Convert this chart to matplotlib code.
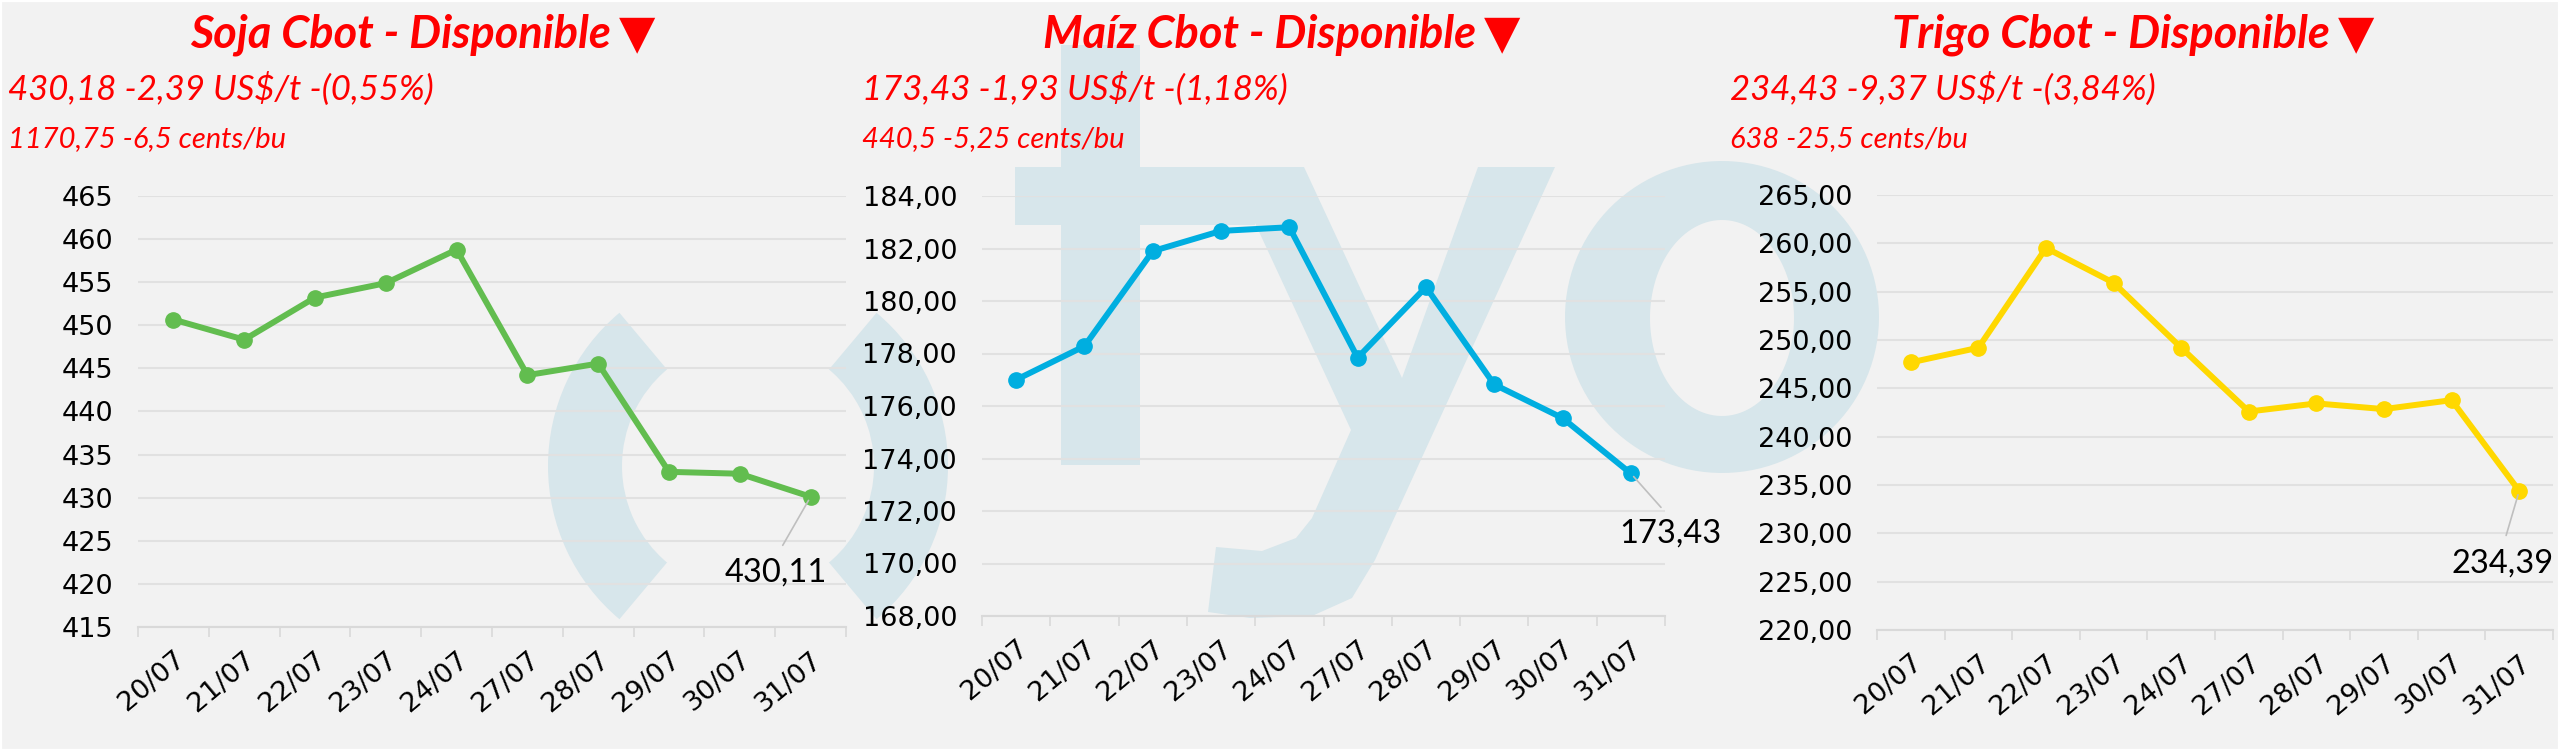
import numpy as np
import matplotlib
matplotlib.use('Agg')
import matplotlib.pyplot as plt
from matplotlib import patches, transforms
from matplotlib.path import Path
from matplotlib.ticker import FixedLocator, FuncFormatter

# Data
dates = ['20/07', '21/07', '22/07', '23/07', '24/07', '27/07', '28/07', '29/07', '30/07', '31/07']
soja = [450.67, 448.33, 453.22, 454.89, 458.78, 444.22, 445.56, 433.0, 432.78, 430.11]
maiz = [177.0, 178.28, 181.9, 182.67, 182.81, 177.84, 180.53, 176.82, 175.54, 173.43]
trigo = [247.68, 249.2, 259.52, 255.92, 249.2, 242.6, 243.44, 242.85, 243.78, 234.39]

titles = ['Soja Cbot - Disponible', 'Maíz Cbot - Disponible', 'Trigo Cbot - Disponible']
sub_usd = [r'430,18 -2,39 US\$/t -(0,55%)', r'173,43 -1,93 US\$/t -(1,18%)', r'234,43 -9,37 US\$/t -(3,84%)']
sub_bu = ['1170,75 -6,5 cents/bu', '440,5 -5,25 cents/bu', '638 -25,5 cents/bu']
y_ranges = [(415, 465, 5), (168, 184, 2), (220, 265, 5)]
y_decimals = [0, 2, 2]
colors = ['#62bd4f', '#00aee0', '#ffd800']

W, H = 2560, 751
BG = '#f2f2f2'
RED = '#ff0000'
WM = '#d7e6eb'
HEAD = ['Lato', 'DejaVu Sans']

fig = plt.figure(figsize=(W / 100, H / 100), dpi=100, facecolor=BG)

# pixel coords (origin top-left) -> figure
px = transforms.Affine2D().scale(1 / 100, -1 / 100).translate(0, H / 100) + fig.dpi_scale_trans

def wm(p):
    p.set_transform(px)
    p.set_zorder(-5)
    fig.patches.append(p)

# Background watermark "(tyo"
wm(patches.Wedge((748, 466), 200, 130, 230, width=74, fc=WM, ec='none'))
wm(patches.Wedge((748, 466), 200, -50, 50, width=74, fc=WM, ec='none'))
wm(patches.Rectangle((1061, 45), 79, 420, fc=WM, ec='none'))
wm(patches.Rectangle((1015, 167), 240, 58, fc=WM, ec='none'))
y_shape = [(1229, 167), (1304, 167), (1402, 378), (1478, 167), (1555, 167), (1375, 560),
           (1352, 598), (1312, 616), (1250, 618), (1208, 612), (1216, 547), (1262, 551),
           (1296, 538), (1312, 518), (1351, 430)]
wm(patches.Polygon(y_shape, closed=True, fc=WM, ec='none'))
t = np.linspace(0, 2 * np.pi, 120)
outer = np.column_stack([1722 + 157 * np.cos(t), 317 + 156 * np.sin(t)])
inner = np.column_stack([1722 + 72 * np.cos(t), 318 + 98 * np.sin(t)])[::-1]
verts = np.vstack([outer, inner])
codes = ([Path.MOVETO] + [Path.LINETO] * (len(t) - 1)) * 2
wm(patches.PathPatch(Path(verts, codes), fc=WM, ec='none'))

# axes boxes in pixels: left, top, right, bottom
boxes = [(138, 196, 846, 627), (982, 196, 1665, 616), (1877, 195, 2553, 630)]
title_end = [611, 1476, 2330]
sub_x = [8, 862, 1730]
# data label: text centre offset from last point, in pixels
label_off = [(-35, 76), (40, 60), (-17, 73)]

for i, series in enumerate([soja, maiz, trigo]):
    l, t_, r, b = boxes[i]
    ax = fig.add_axes([l / W, 1 - b / H, (r - l) / W, (b - t_) / H])
    ax.set_facecolor('none')
    x = np.arange(len(dates))
    ax.plot(x, series, color=colors[i], lw=4.3, marker='o', ms=11, zorder=3, solid_joinstyle='round')

    lo, hi, step = y_ranges[i]
    ax.set_ylim(lo, hi)
    ax.set_xlim(-0.5, len(dates) - 0.5)
    ax.yaxis.set_major_locator(FixedLocator(np.arange(lo, hi + step / 2, step)))
    dec = y_decimals[i]
    ax.yaxis.set_major_formatter(FuncFormatter(lambda v, p, d=dec: f'{v:.{d}f}'.replace('.', ',')))
    ax.grid(axis='y', color='#e1e1e1', lw=1.5)
    ax.set_axisbelow(True)

    ax.set_xticks(x)
    ax.set_xticklabels(dates)
    ax.set_xticks(np.arange(-0.5, len(dates)), minor=True)
    ax.tick_params(axis='x', which='major', length=0, pad=14, labelsize=19.5)
    ax.tick_params(axis='x', which='minor', length=7, width=1.2, color='#d9d9d9')
    ax.tick_params(axis='y', length=0, pad=18, labelsize=19.5)
    plt.setp(ax.get_xticklabels(), rotation=40, ha='right', va='top', rotation_mode='anchor')

    for s in ['top', 'right', 'left']:
        ax.spines[s].set_visible(False)
    ax.spines['bottom'].set_color('#d9d9d9')
    ax.spines['bottom'].set_linewidth(1.5)

    # last value label
    dx, dy = label_off[i]
    ax.annotate(f'{series[-1]:.2f}'.replace('.', ','), xy=(x[-1], series[-1]),
                xytext=(dx * 0.72, -dy * 0.72), textcoords='offset points',
                ha='center', va='center', fontsize=23.5, color='black', family=HEAD,
                arrowprops=dict(arrowstyle='-', color='#bfbfbf', lw=1.2,
                                relpos=(0.5, 1.0), shrinkA=8, shrinkB=3))

    # headers
    fig.text(title_end[i] / W, 1 - 48 / H, titles[i], ha='right', va='baseline',
             fontsize=32.5, fontweight='bold', fontstyle='italic', color=RED, family=HEAD)
    fig.text((title_end[i] + 8) / W, 1 - 47 / H, '\u25bc', ha='left', va='baseline',
             fontsize=34, color=RED, family='DejaVu Sans')
    fig.text(sub_x[i] / W, 1 - 100 / H, sub_usd[i], ha='left', va='baseline',
             fontsize=25, fontstyle='italic', color=RED, family=HEAD)
    fig.text(sub_x[i] / W, 1 - 147 / H, sub_bu[i], ha='left', va='baseline',
             fontsize=21, fontstyle='italic', color=RED, family=HEAD)

# thin white frame
fig.patches.append(patches.Rectangle((0, 0), 1, 1, transform=fig.transFigure,
                                     fill=False, ec='white', lw=3, zorder=10))

fig.savefig('out.png', dpi=100, facecolor=BG)
